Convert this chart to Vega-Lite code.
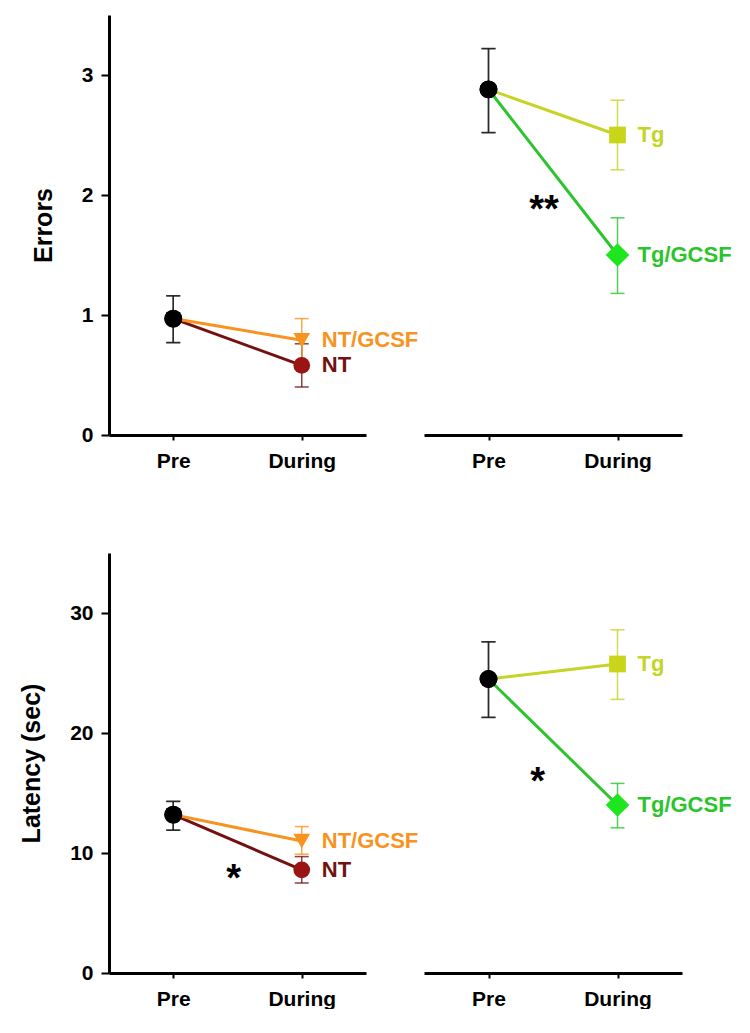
{
  "$schema": "https://vega.github.io/schema/vega-lite/v6.json",
  "padding": {"left": 19, "top": 15, "right": 0, "bottom": 0},
  "bounds": "flush",
  "columns": 2,
  "spacing": {"row": 118, "column": 58},
  "config": {
    "view": {"stroke": null},
    "font": "Liberation Sans",
    "axis": {"domainColor": "#000", "domainWidth": 3, "tickColor": "#000", "tickWidth": 2, "labelColor": "#000", "labelFont": "Liberation Sans", "labelFontSize": 21, "labelFontWeight": "bold", "titleFont": "Liberation Sans", "titleFontSize": 25, "titleFontWeight": "bold", "titleColor": "#000", "grid": false, "labelFlush": false},
    "axisX": {"tickSize": 5, "labelPadding": 10},
    "axisY": {"tickSize": 8, "labelPadding": 8, "titlePadding": 25, "format": "d"}
  },
  "datasets": {
    "d": [
      {"panel": "E-NT", "group": "NT", "x": 0, "mean": 0.97, "lo": 0.77, "hi": 1.16},
      {"panel": "E-NT", "group": "NT", "x": 1, "mean": 0.58, "lo": 0.40, "hi": 0.76},
      {"panel": "E-NT", "group": "NT/GCSF", "x": 0, "mean": 0.97, "lo": 0.77, "hi": 1.16},
      {"panel": "E-NT", "group": "NT/GCSF", "x": 1, "mean": 0.79, "lo": 0.61, "hi": 0.97},
      {"panel": "E-Tg", "group": "Tg", "x": 0, "mean": 2.88, "lo": 2.52, "hi": 3.22},
      {"panel": "E-Tg", "group": "Tg", "x": 1, "mean": 2.50, "lo": 2.21, "hi": 2.79},
      {"panel": "E-Tg", "group": "Tg/GCSF", "x": 0, "mean": 2.88, "lo": 2.52, "hi": 3.22},
      {"panel": "E-Tg", "group": "Tg/GCSF", "x": 1, "mean": 1.50, "lo": 1.18, "hi": 1.81},
      {"panel": "L-NT", "group": "NT", "x": 0, "mean": 13.2, "lo": 11.9, "hi": 14.3},
      {"panel": "L-NT", "group": "NT", "x": 1, "mean": 8.6, "lo": 7.5, "hi": 9.7},
      {"panel": "L-NT", "group": "NT/GCSF", "x": 0, "mean": 13.2, "lo": 11.9, "hi": 14.3},
      {"panel": "L-NT", "group": "NT/GCSF", "x": 1, "mean": 11.0, "lo": 9.9, "hi": 12.2},
      {"panel": "L-Tg", "group": "Tg", "x": 0, "mean": 24.5, "lo": 21.3, "hi": 27.6},
      {"panel": "L-Tg", "group": "Tg", "x": 1, "mean": 25.75, "lo": 22.8, "hi": 28.6},
      {"panel": "L-Tg", "group": "Tg/GCSF", "x": 0, "mean": 24.5, "lo": 21.3, "hi": 27.6},
      {"panel": "L-Tg", "group": "Tg/GCSF", "x": 1, "mean": 14.0, "lo": 12.1, "hi": 15.8}
    ],
    "s": [
      {"panel": "E-Tg", "x": 0.43, "y": 1.95, "label": "**"},
      {"panel": "L-NT", "x": 0.47, "y": 8.6, "label": "*"},
      {"panel": "L-Tg", "x": 0.38, "y": 16.7, "label": "*"}
    ]
  },
  "concat": [
        {
          "width": 257, "height": 420,
          "layer": [
            {"data": {"name": "d"}, "transform": [{"filter": "datum.panel === 'E-NT'"}], "mark": {"type": "line", "strokeWidth": 3},
             "encoding": {"x": {"field": "x", "type": "quantitative", "scale": {"domain": [-0.5, 1.5], "nice": false, "zero": false}, "axis": {"values": [0, 1], "labelExpr": "datum.value === 0 ? 'Pre' : 'During'", "title": null}},
               "y": {"field": "mean", "type": "quantitative", "scale": {"domain": [0, 3.5], "nice": false}, "axis": {"values": [0, 1, 2, 3], "title": "Errors"}},
               "color": {"field": "group", "type": "nominal", "scale": {"domain": ["NT", "NT/GCSF", "Tg", "Tg/GCSF"], "range": ["#741010", "#f7931e", "#c5d426", "#2cc42c"]}, "legend": null},
               "detail": {"field": "group"}}},
            {"data": {"name": "d"}, "transform": [{"filter": "datum.panel === 'E-NT'"}], "mark": {"type": "rule", "strokeWidth": 1.5, "opacity": 0.8},
             "encoding": {"x": {"field": "x", "type": "quantitative"}, "y": {"field": "lo", "type": "quantitative", "title": "Errors"}, "y2": {"field": "hi"},
               "color": {"condition": {"test": "datum.x === 0", "value": "#222"}, "field": "group", "type": "nominal", "legend": null}}},
            {"data": {"name": "d"}, "transform": [{"filter": "datum.panel === 'E-NT'"}], "mark": {"type": "tick", "orient": "horizontal", "size": 14, "thickness": 1.5, "opacity": 0.8},
             "encoding": {"x": {"field": "x", "type": "quantitative"}, "y": {"field": "lo", "type": "quantitative", "title": "Errors"},
               "color": {"condition": {"test": "datum.x === 0", "value": "#222"}, "field": "group", "type": "nominal", "legend": null}}},
            {"data": {"name": "d"}, "transform": [{"filter": "datum.panel === 'E-NT'"}], "mark": {"type": "tick", "orient": "horizontal", "size": 14, "thickness": 1.5, "opacity": 0.8},
             "encoding": {"x": {"field": "x", "type": "quantitative"}, "y": {"field": "hi", "type": "quantitative", "title": "Errors"},
               "color": {"condition": {"test": "datum.x === 0", "value": "#222"}, "field": "group", "type": "nominal", "legend": null}}},
            {"data": {"name": "d"}, "transform": [{"filter": "datum.panel === 'E-NT' && datum.x === 1"}], "mark": {"type": "point", "filled": true, "opacity": 1},
             "encoding": {"x": {"field": "x", "type": "quantitative"}, "y": {"field": "mean", "type": "quantitative", "title": "Errors"},
               "shape": {"field": "group", "type": "nominal", "scale": {"domain": ["NT", "NT/GCSF", "Tg", "Tg/GCSF"], "range": ["circle", "triangle-down", "square", "diamond"]}, "legend": null},
               "size": {"condition": {"test": "datum.group === 'Tg/GCSF'", "value": 560}, "value": 280},
               "fill": {"field": "group", "type": "nominal", "scale": {"domain": ["NT", "NT/GCSF", "Tg", "Tg/GCSF"], "range": ["#9a1414", "#f7941d", "#c8d51a", "#1ee61e"]}, "legend": null}}},
            {"data": {"name": "d"}, "transform": [{"filter": "datum.panel === 'E-NT' && datum.x === 0"}], "mark": {"type": "circle", "size": 320, "color": "#000", "opacity": 1},
             "encoding": {"x": {"field": "x", "type": "quantitative"}, "y": {"field": "mean", "type": "quantitative", "title": "Errors"}}},
            {"data": {"name": "d"}, "transform": [{"filter": "datum.panel === 'E-NT' && datum.x === 1"}], "mark": {"type": "text", "align": "left", "baseline": "middle", "dx": 20, "fontSize": 22, "fontWeight": "bold"},
             "encoding": {"x": {"field": "x", "type": "quantitative"}, "y": {"field": "mean", "type": "quantitative", "title": "Errors"}, "text": {"field": "group"},
               "color": {"field": "group", "type": "nominal", "legend": null}}}
          ]
        },
        {
          "width": 258, "height": 420,
          "layer": [
            {"data": {"name": "d"}, "transform": [{"filter": "datum.panel === 'E-Tg'"}], "mark": {"type": "line", "strokeWidth": 3},
             "encoding": {"x": {"field": "x", "type": "quantitative", "scale": {"domain": [-0.5, 1.5], "nice": false, "zero": false}, "axis": {"values": [0, 1], "labelExpr": "datum.value === 0 ? 'Pre' : 'During'", "title": null}},
               "y": {"field": "mean", "type": "quantitative", "scale": {"domain": [0, 3.5], "nice": false}, "axis": null},
               "color": {"field": "group", "type": "nominal", "scale": {"domain": ["NT", "NT/GCSF", "Tg", "Tg/GCSF"], "range": ["#741010", "#f7931e", "#c5d426", "#2cc42c"]}, "legend": null},
               "detail": {"field": "group"}}},
            {"data": {"name": "d"}, "transform": [{"filter": "datum.panel === 'E-Tg'"}], "mark": {"type": "rule", "strokeWidth": 1.5, "opacity": 0.8},
             "encoding": {"x": {"field": "x", "type": "quantitative"}, "y": {"field": "lo", "type": "quantitative", "axis": null}, "y2": {"field": "hi"},
               "color": {"condition": {"test": "datum.x === 0", "value": "#222"}, "field": "group", "type": "nominal", "legend": null}}},
            {"data": {"name": "d"}, "transform": [{"filter": "datum.panel === 'E-Tg'"}], "mark": {"type": "tick", "orient": "horizontal", "size": 14, "thickness": 1.5, "opacity": 0.8},
             "encoding": {"x": {"field": "x", "type": "quantitative"}, "y": {"field": "lo", "type": "quantitative", "axis": null},
               "color": {"condition": {"test": "datum.x === 0", "value": "#222"}, "field": "group", "type": "nominal", "legend": null}}},
            {"data": {"name": "d"}, "transform": [{"filter": "datum.panel === 'E-Tg'"}], "mark": {"type": "tick", "orient": "horizontal", "size": 14, "thickness": 1.5, "opacity": 0.8},
             "encoding": {"x": {"field": "x", "type": "quantitative"}, "y": {"field": "hi", "type": "quantitative", "axis": null},
               "color": {"condition": {"test": "datum.x === 0", "value": "#222"}, "field": "group", "type": "nominal", "legend": null}}},
            {"data": {"name": "d"}, "transform": [{"filter": "datum.panel === 'E-Tg' && datum.x === 1"}], "mark": {"type": "point", "filled": true, "opacity": 1},
             "encoding": {"x": {"field": "x", "type": "quantitative"}, "y": {"field": "mean", "type": "quantitative", "axis": null},
               "shape": {"field": "group", "type": "nominal", "scale": {"domain": ["NT", "NT/GCSF", "Tg", "Tg/GCSF"], "range": ["circle", "triangle-down", "square", "diamond"]}, "legend": null},
               "size": {"condition": {"test": "datum.group === 'Tg/GCSF'", "value": 560}, "value": 280},
               "fill": {"field": "group", "type": "nominal", "scale": {"domain": ["NT", "NT/GCSF", "Tg", "Tg/GCSF"], "range": ["#9a1414", "#f7941d", "#c8d51a", "#1ee61e"]}, "legend": null}}},
            {"data": {"name": "d"}, "transform": [{"filter": "datum.panel === 'E-Tg' && datum.x === 0"}], "mark": {"type": "circle", "size": 320, "color": "#000", "opacity": 1},
             "encoding": {"x": {"field": "x", "type": "quantitative"}, "y": {"field": "mean", "type": "quantitative", "axis": null}}},
            {"data": {"name": "d"}, "transform": [{"filter": "datum.panel === 'E-Tg' && datum.x === 1"}], "mark": {"type": "text", "align": "left", "baseline": "middle", "dx": 20, "fontSize": 22, "fontWeight": "bold"},
             "encoding": {"x": {"field": "x", "type": "quantitative"}, "y": {"field": "mean", "type": "quantitative", "axis": null}, "text": {"field": "group"},
               "color": {"field": "group", "type": "nominal", "legend": null}}},
            {"data": {"name": "s"}, "transform": [{"filter": "datum.panel === 'E-Tg'"}], "mark": {"type": "text", "align": "center", "baseline": "middle", "dy": 10, "fontSize": 38, "fontWeight": "bold", "color": "#000"},
             "encoding": {"x": {"field": "x", "type": "quantitative"}, "y": {"field": "y", "type": "quantitative", "axis": null}, "text": {"field": "label"}}}
          ]
        },
        {
          "width": 257, "height": 420,
          "layer": [
            {"data": {"name": "d"}, "transform": [{"filter": "datum.panel === 'L-NT'"}], "mark": {"type": "line", "strokeWidth": 3},
             "encoding": {"x": {"field": "x", "type": "quantitative", "scale": {"domain": [-0.5, 1.5], "nice": false, "zero": false}, "axis": {"values": [0, 1], "labelExpr": "datum.value === 0 ? 'Pre' : 'During'", "title": null}},
               "y": {"field": "mean", "type": "quantitative", "scale": {"domain": [0, 35], "nice": false}, "axis": {"values": [0, 10, 20, 30], "title": "Latency (sec)"}},
               "color": {"field": "group", "type": "nominal", "scale": {"domain": ["NT", "NT/GCSF", "Tg", "Tg/GCSF"], "range": ["#741010", "#f7931e", "#c5d426", "#2cc42c"]}, "legend": null},
               "detail": {"field": "group"}}},
            {"data": {"name": "d"}, "transform": [{"filter": "datum.panel === 'L-NT'"}], "mark": {"type": "rule", "strokeWidth": 1.5, "opacity": 0.8},
             "encoding": {"x": {"field": "x", "type": "quantitative"}, "y": {"field": "lo", "type": "quantitative", "title": "Latency (sec)"}, "y2": {"field": "hi"},
               "color": {"condition": {"test": "datum.x === 0", "value": "#222"}, "field": "group", "type": "nominal", "legend": null}}},
            {"data": {"name": "d"}, "transform": [{"filter": "datum.panel === 'L-NT'"}], "mark": {"type": "tick", "orient": "horizontal", "size": 14, "thickness": 1.5, "opacity": 0.8},
             "encoding": {"x": {"field": "x", "type": "quantitative"}, "y": {"field": "lo", "type": "quantitative", "title": "Latency (sec)"},
               "color": {"condition": {"test": "datum.x === 0", "value": "#222"}, "field": "group", "type": "nominal", "legend": null}}},
            {"data": {"name": "d"}, "transform": [{"filter": "datum.panel === 'L-NT'"}], "mark": {"type": "tick", "orient": "horizontal", "size": 14, "thickness": 1.5, "opacity": 0.8},
             "encoding": {"x": {"field": "x", "type": "quantitative"}, "y": {"field": "hi", "type": "quantitative", "title": "Latency (sec)"},
               "color": {"condition": {"test": "datum.x === 0", "value": "#222"}, "field": "group", "type": "nominal", "legend": null}}},
            {"data": {"name": "d"}, "transform": [{"filter": "datum.panel === 'L-NT' && datum.x === 1"}], "mark": {"type": "point", "filled": true, "opacity": 1},
             "encoding": {"x": {"field": "x", "type": "quantitative"}, "y": {"field": "mean", "type": "quantitative", "title": "Latency (sec)"},
               "shape": {"field": "group", "type": "nominal", "scale": {"domain": ["NT", "NT/GCSF", "Tg", "Tg/GCSF"], "range": ["circle", "triangle-down", "square", "diamond"]}, "legend": null},
               "size": {"condition": {"test": "datum.group === 'Tg/GCSF'", "value": 560}, "value": 280},
               "fill": {"field": "group", "type": "nominal", "scale": {"domain": ["NT", "NT/GCSF", "Tg", "Tg/GCSF"], "range": ["#9a1414", "#f7941d", "#c8d51a", "#1ee61e"]}, "legend": null}}},
            {"data": {"name": "d"}, "transform": [{"filter": "datum.panel === 'L-NT' && datum.x === 0"}], "mark": {"type": "circle", "size": 320, "color": "#000", "opacity": 1},
             "encoding": {"x": {"field": "x", "type": "quantitative"}, "y": {"field": "mean", "type": "quantitative", "title": "Latency (sec)"}}},
            {"data": {"name": "d"}, "transform": [{"filter": "datum.panel === 'L-NT' && datum.x === 1"}], "mark": {"type": "text", "align": "left", "baseline": "middle", "dx": 20, "fontSize": 22, "fontWeight": "bold"},
             "encoding": {"x": {"field": "x", "type": "quantitative"}, "y": {"field": "mean", "type": "quantitative", "title": "Latency (sec)"}, "text": {"field": "group"},
               "color": {"field": "group", "type": "nominal", "legend": null}}},
            {"data": {"name": "s"}, "transform": [{"filter": "datum.panel === 'L-NT'"}], "mark": {"type": "text", "align": "center", "baseline": "middle", "dy": 10, "fontSize": 38, "fontWeight": "bold", "color": "#000"},
             "encoding": {"x": {"field": "x", "type": "quantitative"}, "y": {"field": "y", "type": "quantitative", "title": "Latency (sec)"}, "text": {"field": "label"}}}
          ]
        },
        {
          "width": 258, "height": 420,
          "layer": [
            {"data": {"name": "d"}, "transform": [{"filter": "datum.panel === 'L-Tg'"}], "mark": {"type": "line", "strokeWidth": 3},
             "encoding": {"x": {"field": "x", "type": "quantitative", "scale": {"domain": [-0.5, 1.5], "nice": false, "zero": false}, "axis": {"values": [0, 1], "labelExpr": "datum.value === 0 ? 'Pre' : 'During'", "title": null}},
               "y": {"field": "mean", "type": "quantitative", "scale": {"domain": [0, 35], "nice": false}, "axis": null},
               "color": {"field": "group", "type": "nominal", "scale": {"domain": ["NT", "NT/GCSF", "Tg", "Tg/GCSF"], "range": ["#741010", "#f7931e", "#c5d426", "#2cc42c"]}, "legend": null},
               "detail": {"field": "group"}}},
            {"data": {"name": "d"}, "transform": [{"filter": "datum.panel === 'L-Tg'"}], "mark": {"type": "rule", "strokeWidth": 1.5, "opacity": 0.8},
             "encoding": {"x": {"field": "x", "type": "quantitative"}, "y": {"field": "lo", "type": "quantitative", "axis": null}, "y2": {"field": "hi"},
               "color": {"condition": {"test": "datum.x === 0", "value": "#222"}, "field": "group", "type": "nominal", "legend": null}}},
            {"data": {"name": "d"}, "transform": [{"filter": "datum.panel === 'L-Tg'"}], "mark": {"type": "tick", "orient": "horizontal", "size": 14, "thickness": 1.5, "opacity": 0.8},
             "encoding": {"x": {"field": "x", "type": "quantitative"}, "y": {"field": "lo", "type": "quantitative", "axis": null},
               "color": {"condition": {"test": "datum.x === 0", "value": "#222"}, "field": "group", "type": "nominal", "legend": null}}},
            {"data": {"name": "d"}, "transform": [{"filter": "datum.panel === 'L-Tg'"}], "mark": {"type": "tick", "orient": "horizontal", "size": 14, "thickness": 1.5, "opacity": 0.8},
             "encoding": {"x": {"field": "x", "type": "quantitative"}, "y": {"field": "hi", "type": "quantitative", "axis": null},
               "color": {"condition": {"test": "datum.x === 0", "value": "#222"}, "field": "group", "type": "nominal", "legend": null}}},
            {"data": {"name": "d"}, "transform": [{"filter": "datum.panel === 'L-Tg' && datum.x === 1"}], "mark": {"type": "point", "filled": true, "opacity": 1},
             "encoding": {"x": {"field": "x", "type": "quantitative"}, "y": {"field": "mean", "type": "quantitative", "axis": null},
               "shape": {"field": "group", "type": "nominal", "scale": {"domain": ["NT", "NT/GCSF", "Tg", "Tg/GCSF"], "range": ["circle", "triangle-down", "square", "diamond"]}, "legend": null},
               "size": {"condition": {"test": "datum.group === 'Tg/GCSF'", "value": 560}, "value": 280},
               "fill": {"field": "group", "type": "nominal", "scale": {"domain": ["NT", "NT/GCSF", "Tg", "Tg/GCSF"], "range": ["#9a1414", "#f7941d", "#c8d51a", "#1ee61e"]}, "legend": null}}},
            {"data": {"name": "d"}, "transform": [{"filter": "datum.panel === 'L-Tg' && datum.x === 0"}], "mark": {"type": "circle", "size": 320, "color": "#000", "opacity": 1},
             "encoding": {"x": {"field": "x", "type": "quantitative"}, "y": {"field": "mean", "type": "quantitative", "axis": null}}},
            {"data": {"name": "d"}, "transform": [{"filter": "datum.panel === 'L-Tg' && datum.x === 1"}], "mark": {"type": "text", "align": "left", "baseline": "middle", "dx": 20, "fontSize": 22, "fontWeight": "bold"},
             "encoding": {"x": {"field": "x", "type": "quantitative"}, "y": {"field": "mean", "type": "quantitative", "axis": null}, "text": {"field": "group"},
               "color": {"field": "group", "type": "nominal", "legend": null}}},
            {"data": {"name": "s"}, "transform": [{"filter": "datum.panel === 'L-Tg'"}], "mark": {"type": "text", "align": "center", "baseline": "middle", "dy": 10, "fontSize": 38, "fontWeight": "bold", "color": "#000"},
             "encoding": {"x": {"field": "x", "type": "quantitative"}, "y": {"field": "y", "type": "quantitative", "axis": null}, "text": {"field": "label"}}}
          ]
        }
  ]
}
